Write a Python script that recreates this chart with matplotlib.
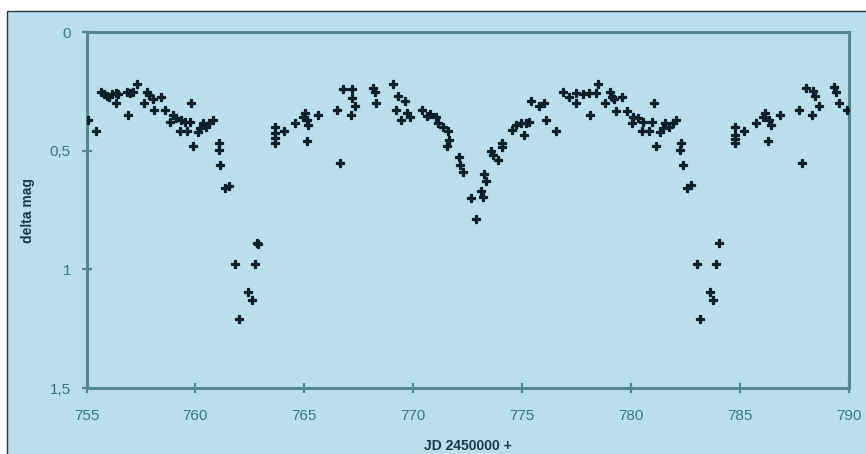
import matplotlib
matplotlib.use("Agg")
import matplotlib.pyplot as plt
from matplotlib.patches import Rectangle

# Light curve: Julian date offset (JD - 2450000) and differential magnitude
jd = [
    755.08, 755.42, 755.67, 755.82, 755.93, 756.03, 756.16, 756.35, 756.46, 756.35,
    756.84, 756.99, 757.14, 757.30, 756.90, 757.63, 757.79, 757.89, 758.04, 758.12,
    758.40, 758.61, 758.96, 758.81, 759.12, 759.35, 759.50, 759.81, 759.77, 759.31,
    759.62, 760.11, 760.23, 760.34, 760.49, 760.64, 760.79, 759.90, 761.09, 761.09,
    761.12, 761.36, 761.55, 761.83, 762.01, 762.43, 762.58, 762.75, 762.84, 762.88,
    763.65, 763.65, 763.65, 763.65, 764.08, 764.57, 764.95, 765.03, 765.11, 765.18,
    765.11, 765.64, 766.52, 766.77, 766.65, 767.18, 767.18, 767.32, 767.15, 768.14,
    768.22, 768.31, 769.05, 769.29, 769.64, 769.19, 769.44, 769.69, 769.83, 770.41,
    770.63, 770.79, 771.05, 771.13, 771.35, 771.58, 771.66, 771.55, 772.10, 772.16,
    772.29, 772.67, 772.86, 773.10, 773.19, 773.26, 773.33, 773.57, 773.67, 773.90,
    774.05, 774.09, 774.55, 774.72, 774.94, 775.18, 775.33, 775.10, 775.40, 775.77,
    776.02, 776.10, 776.54, 776.86, 777.14, 777.47, 777.47, 777.78, 778.08, 778.39,
    778.50, 778.13, 778.82, 779.03, 779.13, 779.23, 779.58, 779.31, 779.80, 781.07,
    780.09, 780.02, 780.32, 780.55, 780.48, 780.83, 780.94, 781.32, 781.44, 781.55,
    781.75, 781.90, 782.05, 781.13, 782.29, 782.24, 782.38, 782.57, 782.77, 783.03,
    783.17, 783.60, 783.75, 783.90, 784.02, 784.79, 784.79, 784.79, 784.79, 785.20,
    785.74, 786.04, 786.16, 786.31, 786.42, 786.27, 786.81, 787.69, 787.84, 788.01,
    788.35, 788.42, 788.60, 788.31, 789.32, 789.41, 789.56, 789.91,
]
delta_mag = [
    0.371, 0.416, 0.252, 0.261, 0.270, 0.273, 0.261, 0.256, 0.261, 0.299,
    0.252, 0.256, 0.252, 0.219, 0.350, 0.298, 0.252, 0.265, 0.284, 0.329,
    0.275, 0.329, 0.350, 0.378, 0.364, 0.371, 0.378, 0.298, 0.378, 0.417,
    0.417, 0.420, 0.406, 0.385, 0.399, 0.385, 0.371, 0.480, 0.466, 0.497,
    0.560, 0.659, 0.649, 0.979, 1.211, 1.094, 1.129, 0.979, 0.888, 0.895,
    0.399, 0.427, 0.448, 0.469, 0.416, 0.382, 0.357, 0.343, 0.371, 0.392,
    0.458, 0.350, 0.329, 0.241, 0.551, 0.241, 0.276, 0.310, 0.350, 0.234,
    0.252, 0.298, 0.219, 0.268, 0.289, 0.329, 0.369, 0.341, 0.359, 0.329,
    0.354, 0.346, 0.358, 0.382, 0.400, 0.417, 0.457, 0.480, 0.528, 0.560,
    0.589, 0.700, 0.788, 0.672, 0.695, 0.598, 0.628, 0.501, 0.518, 0.539,
    0.466, 0.486, 0.413, 0.392, 0.382, 0.385, 0.378, 0.436, 0.289, 0.310,
    0.300, 0.371, 0.417, 0.252, 0.273, 0.258, 0.298, 0.261, 0.258, 0.256,
    0.219, 0.350, 0.298, 0.252, 0.273, 0.284, 0.275, 0.332, 0.332, 0.298,
    0.357, 0.382, 0.364, 0.378, 0.417, 0.417, 0.378, 0.420, 0.406, 0.385,
    0.399, 0.382, 0.371, 0.480, 0.466, 0.499, 0.560, 0.659, 0.645, 0.979,
    1.211, 1.094, 1.129, 0.979, 0.888, 0.402, 0.434, 0.452, 0.469, 0.416,
    0.382, 0.357, 0.343, 0.371, 0.392, 0.458, 0.350, 0.329, 0.551, 0.237,
    0.249, 0.270, 0.310, 0.350, 0.232, 0.253, 0.299, 0.329,
]

x_ticks = [755, 760, 765, 770, 775, 780, 785, 790]
y_ticks = [0, 0.5, 1, 1.5]
y_tick_labels = ["0", "0,5", "1", "1,5"]

BG = "#b9deee"
FRAME = "#55878f"
TICK_TEXT = "#3d7886"
MARKER = "#0c2029"

plt.rcParams["font.family"] = ["Liberation Sans", "DejaVu Sans"]

W, H = 866, 454
fig = plt.figure(figsize=(W / 100, H / 100), dpi=100)
fig.patch.set_facecolor("white")

# blue chart area with a thin dark border on its left/top
fig.patches.append(Rectangle((7 / W, -0.01), 1 - 7 / W + 0.01, 1 - 11 / H + 0.01,
                             transform=fig.transFigure, facecolor=BG,
                             edgecolor="#333333", linewidth=1.0, zorder=-10))

ax = fig.add_axes([86.5 / W, 1 - 388 / H, (849 - 86.5) / W, (388 - 32) / H])
ax.set_facecolor("none")
ax.set_zorder(1)

ax.plot(jd, delta_mag, linestyle="none", marker="P", markersize=5.8,
        color=MARKER, markeredgecolor=MARKER, markeredgewidth=0.9, zorder=3)

ax.set_xlim(755, 790)
ax.set_ylim(1.5, 0)
ax.set_xticks(x_ticks)
ax.set_xticklabels([str(t) for t in x_ticks])
ax.set_yticks(y_ticks)
ax.set_yticklabels(y_tick_labels)

for side in ("left", "bottom", "top", "right"):
    ax.spines[side].set_color(FRAME)
    ax.spines[side].set_linewidth(2.2)

ax.tick_params(axis="both", direction="inout", length=6.5, width=1.6,
               color=FRAME, labelcolor=TICK_TEXT, labelsize=11)
ax.tick_params(axis="x", pad=12)
ax.tick_params(axis="y", pad=8)

fig.text(28 / W, 1 - 210 / H, "delta mag", rotation=90, ha="center",
         va="center", fontsize=10, fontweight="bold", color="#1c3b45")
fig.text(468 / W, 1 - 446 / H, "JD 2450000 +", ha="center", va="center",
         fontsize=10, fontweight="bold", color="#1c3b45")

fig.savefig("out.png", dpi=100, facecolor=fig.get_facecolor())
